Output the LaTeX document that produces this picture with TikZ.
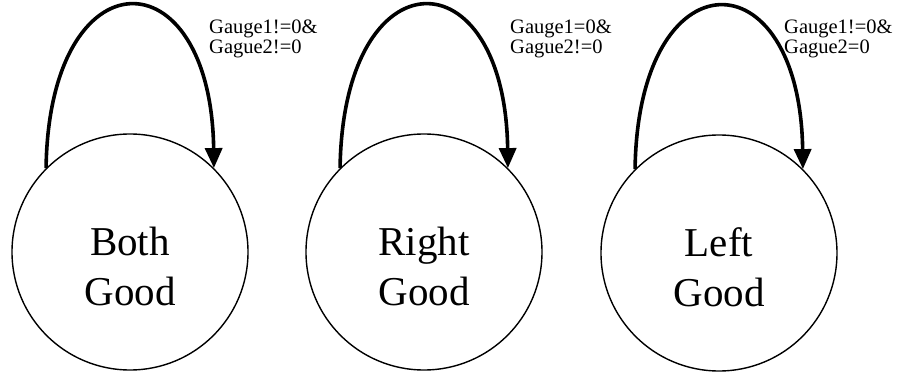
\documentclass[tikz,border=0pt]{standalone}
\usepackage{fontspec}
\setmainfont{Liberation Serif}
\usepackage{tikz}
\usetikzlibrary{arrows.meta,positioning,calc}

\begin{document}
\begin{tikzpicture}[x=1pt,y=1pt,
    statebox/.style={circle,draw=black,line width=1.4pt,
                     minimum size=236pt,inner sep=0pt},
    statetxt/.style={align=center,inner sep=0pt,
                     font=\fontsize{41}{50}\selectfont},
    condlbl/.style={align=left,inner sep=0pt,anchor=base west,
                    font=\fontsize{20.5}{21}\selectfont},
    selfloop/.style={line width=3.6pt,
                     -{Triangle[length=20pt,width=17pt]}}
  ]
  \useasboundingbox (0,0) rectangle (898,373);
  % Both Good
  \node[statebox] (both) at (130,121) {};
  \node[statetxt] (bothtxt) at ([yshift=-14pt]both.center) {Both\\Good};
  \draw[selfloop] (both.135) .. controls +(3,216) and +(-3,216) .. (both.45);
  \node[condlbl] (bothlbl) at (209,319) {Gauge1!=0\&\\Gague2!=0};
  % Right Good
  \node[statebox] (right) at (424,121) {};
  \node[statetxt] (righttxt) at ([yshift=-14pt]right.center) {Right\\Good};
  \draw[selfloop] (right.135) .. controls +(3,216) and +(-3,216) .. (right.45);
  \node[condlbl] (rightlbl) at (510,319) {Gauge1=0\&\\Gague2!=0};
  % Left Good
  \node[statebox] (left) at (719,120) {};
  \node[statetxt] (lefttxt) at ([yshift=-14pt]left.center) {Left\\Good};
  \draw[selfloop] (left.135) .. controls +(3,216) and +(-3,216) .. (left.45);
  \node[condlbl] (leftlbl) at (784,319) {Gauge1!=0\&\\Gague2=0};
\end{tikzpicture}
\end{document}
